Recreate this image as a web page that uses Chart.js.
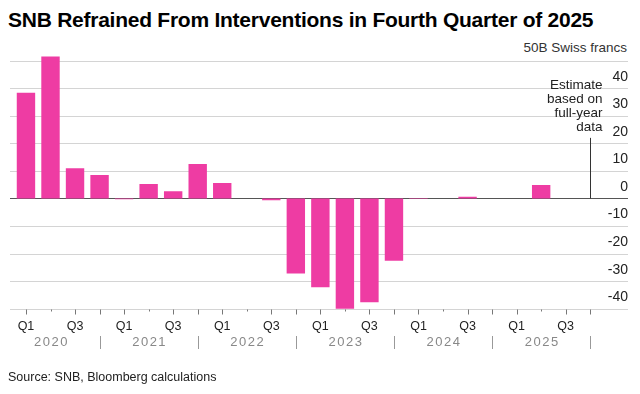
<!DOCTYPE html>
<html>
<head>
<meta charset="utf-8">
<script src="https://cdn.jsdelivr.net/npm/chart.js@4.4.1/dist/chart.umd.min.js"></script>
<style>
  body { margin: 0; background: #fff; font-family: "Liberation Sans", Arial, sans-serif; }
  #wrap { position: relative; width: 640px; height: 394px; }
  #title { position: absolute; left: 8px; top: 8px; font-size: 21px; font-weight: bold; color: #000; white-space: nowrap; letter-spacing: -0.25px; }
  #unit { position: absolute; right: 13px; top: 40px; font-size: 13.5px; color: #333; }
  #source { position: absolute; left: 8px; top: 370px; font-size: 12.5px; color: #222; }
  canvas { position: absolute; left: 0; top: 0; }
</style>
</head>
<body>
<div id="wrap">
  <div id="title">SNB Refrained From Interventions in Fourth Quarter of 2025</div>
  <div id="unit">50B Swiss francs</div>
  <canvas id="snbChart" width="640" height="394"></canvas>
  <div id="source">Source: SNB, Bloomberg calculations</div>
</div>
<script>
// quarters and years on the x axis
const years = ["2020", "2021", "2022", "2023", "2024", "2025"];
const quarters = ["Q1", "Q2", "Q3", "Q4"];
const shownQuarters = ["Q1", "Q3"];

// SNB foreign currency purchases (+) / sales (-), billions of francs
const interventions = [
    38.4, 51.5, 11.0, 8.5,      // 2020
    -0.3, 5.3, 2.6, 12.5,       // 2021
    5.6, 0, -0.6, -27.2,        // 2022
    -32.2, -40.6, -37.7, -22.6, // 2023
    -0.2, 0, 0.6, 0,            // 2024
    0, 4.9, 0, 0                // 2025
];

const yTickValues = [-40, -30, -20, -10, 0, 10, 20, 30, 40, 50];
const estimateNote = ["Estimate", "based on", "full-year", "data"];
const estimateLineTop = 22;

const labels = [];
years.forEach(yr => quarters.forEach(q => labels.push(q + " " + yr)));

const FONT = "'Liberation Sans', Arial, sans-serif";

const snbDecor = {
    id: "snbDecor",
    beforeDatasetsDraw(chart) {
        const { ctx, scales: { y } } = chart;
        ctx.save();
        ctx.lineWidth = 1;
        yTickValues.forEach(v => {
            const py = Math.round(y.getPixelForValue(v)) + 0.5;
            ctx.strokeStyle = v === 0 ? "#555" : "#d4d4d4";
            ctx.beginPath();
            ctx.moveTo(10, py);
            ctx.lineTo(628, py);
            ctx.stroke();
        });
        ctx.restore();
    },
    afterDatasetsDraw(chart) {
        const { ctx, chartArea, scales: { x, y } } = chart;
        ctx.save();
        const base = Math.round(chartArea.bottom) + 0.5;

        // tick marks under the axis
        ctx.strokeStyle = "#777";
        ctx.lineWidth = 1;
        labels.forEach((lab, i) => {
            const px = Math.round(x.getPixelForValue(i)) + 0.5;
            const len = (i % 4 === 1) ? 2 : 5;
            ctx.beginPath();
            ctx.moveTo(px, base);
            ctx.lineTo(px, base + len);
            ctx.stroke();
        });

        // year labels and separators
        ctx.font = "13px " + FONT;
        ctx.fillStyle = "#888";
        ctx.textAlign = "center";
        ctx.textBaseline = "middle";
        if ("letterSpacing" in ctx) ctx.letterSpacing = "1.5px";
        years.forEach((yr, k) => {
            const q2 = x.getPixelForValue(k * 4 + 1);
            ctx.fillText(yr, q2 + 1, 342);
            const q4 = Math.round(x.getPixelForValue(k * 4 + 3)) + 0.5;
            ctx.strokeStyle = "#999";
            ctx.beginPath();
            ctx.moveTo(q4, 336);
            ctx.lineTo(q4, 349);
            ctx.stroke();
        });
        if ("letterSpacing" in ctx) ctx.letterSpacing = "0px";

        // estimate marker on the last quarter
        const ex = Math.round(x.getPixelForValue(labels.length - 1)) + 0.5;
        const yTop = y.getPixelForValue(estimateLineTop);
        ctx.strokeStyle = "#333";
        ctx.beginPath();
        ctx.moveTo(ex, y.getPixelForValue(0));
        ctx.lineTo(ex, yTop);
        ctx.stroke();

        ctx.font = "13.5px " + FONT;
        ctx.fillStyle = "#222";
        ctx.textAlign = "right";
        estimateNote.forEach((line, k) => {
            ctx.fillText(line, chartArea.right, yTop - 11 - (estimateNote.length - 1 - k) * 14);
        });
        ctx.restore();
    }
};

new Chart(document.getElementById("snbChart"), {
    type: "bar",
    data: {
        labels: labels,
        datasets: [{
            data: interventions,
            backgroundColor: "#ee3ca3",
            borderWidth: 0,
            barPercentage: 0.75,
            categoryPercentage: 1.0
        }]
    },
    options: {
        responsive: false,
        animation: false,
        layout: { padding: { left: 13.7, top: 55.2, right: 12, bottom: 0 } },
        plugins: {
            legend: { display: false },
            tooltip: { enabled: false }
        },
        scales: {
            x: {
                offset: true,
                grid: { display: false, drawTicks: false },
                border: { display: false },
                ticks: {
                    autoSkip: false,
                    maxRotation: 0,
                    padding: 10,
                    color: "#222",
                    font: { family: FONT, size: 12.5 },
                    callback: function (val, i) {
                        const q = quarters[i % 4];
                        return shownQuarters.includes(q) ? q : "";
                    }
                },
                afterFit: scale => { scale.height = 394 - 308.7; }
            },
            y: {
                position: "right",
                min: -40,
                max: 52,
                grid: { display: false, drawTicks: false },
                border: { display: false },
                afterBuildTicks: scale => {
                    scale.ticks = yTickValues.map(v => ({ value: v }));
                },
                afterFit: scale => { scale.width = 25.5; },
                ticks: {
                    crossAlign: "far",
                    padding: 0,
                    labelOffset: -11.5,
                    color: "#222",
                    font: { family: FONT, size: 14 },
                    callback: v => (v === 50 ? "" : v)
                }
            }
        }
    },
    plugins: [snbDecor]
});
</script>
</body>
</html>
